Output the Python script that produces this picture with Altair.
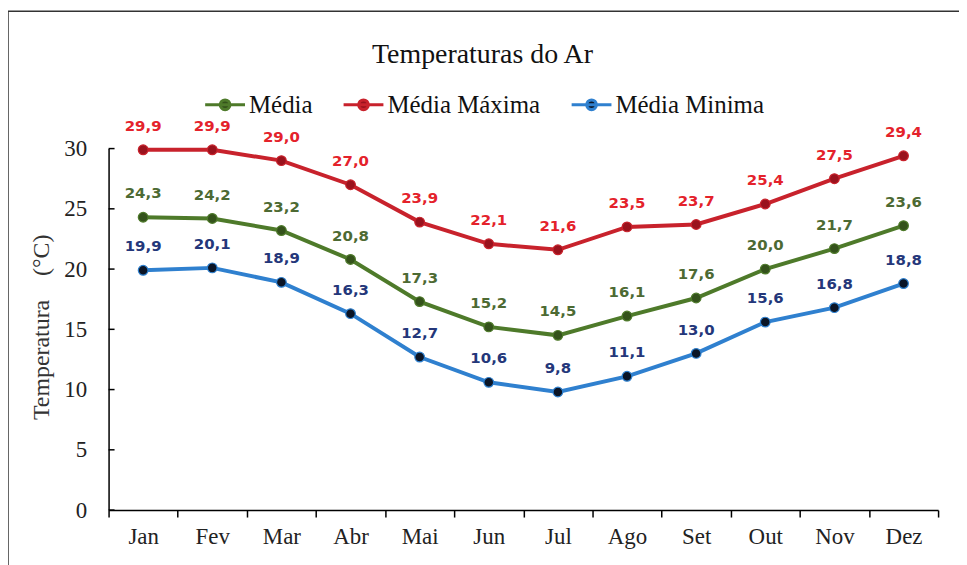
import altair as alt
import pandas as pd

months = ["Jan", "Fev", "Mar", "Abr", "Mai", "Jun", "Jul", "Ago", "Set", "Out", "Nov", "Dez"]
series = ["Média", "Média Máxima", "Média Minima"]
media = [24.3, 24.2, 23.2, 20.8, 17.3, 15.2, 14.5, 16.1, 17.6, 20.0, 21.7, 23.6]
maxima = [29.9, 29.9, 29.0, 27.0, 23.9, 22.1, 21.6, 23.5, 23.7, 25.4, 27.5, 29.4]
minima = [19.9, 20.1, 18.9, 16.3, 12.7, 10.6, 9.8, 11.1, 13.0, 15.6, 16.8, 18.8]
y_ticks = [0, 5, 10, 15, 20, 25, 30]

line_colors = ["#4e7a2a", "#c8222c", "#2f80cf"]
marker_fills = ["#34521b", "#9a121d", "#0b1526"]
label_colors = ["#4d6a33", "#e4222b", "#24377a"]

rows = []
for s, vals in zip(series, [media, maxima, minima]):
    for m, v in zip(months, vals):
        rows.append({"Mês": m, "Série": s, "Temp": v})
df = pd.DataFrame(rows)

SERIF = "Liberation Serif"
NB = "\u00a0"

yscale = alt.Scale(domain=[0, 30], nice=False, zero=True)
xscale = alt.Scale(type="band", paddingInner=0, paddingOuter=0)

x_enc = alt.X(
    "Mês:N", sort=months, scale=xscale,
    axis=alt.Axis(
        title=None, tickBand="extent", labelAngle=0, labelFont=SERIF, labelFontSize=23,
        labelColor="#222", labelPadding=9, tickSize=7, tickWidth=1.5, tickColor="#000",
        domainColor="#000", domainWidth=1.5, grid=False,
    ),
)
y_enc = alt.Y(
    "Temp:Q", scale=yscale,
    axis=alt.Axis(
        title="Temperatura" + NB * 4 + "(°C)", values=y_ticks, ticks=False, tickSize=0,
        labelPadding=22, labelFont=SERIF, labelFontSize=23, labelColor="#222",
        domainColor="#000", domainWidth=1.5, grid=False, titleFont=SERIF,
        titleFontSize=24, titleFontWeight="normal", titleColor="#333", titleX=-67,
        titleY=179, titleAngle=270, titleAlign="center", titleBaseline="middle",
    ),
)

sym_path = "M -1 0 L 1 0 M 0.24 0 A 0.24 0.24 0 1 1 -0.24 0 A 0.24 0.24 0 1 1 0.24 0 Z"
leg = alt.Legend(
    title=None, orient="none", legendX=95, legendY=-66, direction="horizontal",
    symbolType=sym_path, symbolSize=1600, symbolStrokeWidth=3.2, symbolOpacity=1,
    labelFont=SERIF, labelFontSize=25, labelColor="#111", labelOffset=2,
    columnPadding=24, labelLimit=400,
)

stroke_scale = alt.Scale(domain=series, range=line_colors)
fill_scale = alt.Scale(domain=series, range=marker_fills)

base = alt.Chart(df)

frame = alt.Chart(pd.DataFrame({"k": [0]})).mark_rect(
    fill="transparent", stroke="#333", strokeWidth=1.5
).encode(
    x=alt.value(-101), x2=alt.value(1300), y=alt.value(-138), y2=alt.value(1000)
)

yticks = alt.Chart(pd.DataFrame({"Temp": y_ticks})).mark_rule(
    color="#000", strokeWidth=1.5
).encode(y=alt.Y("Temp:Q", scale=yscale), x=alt.value(0), x2=alt.value(6))

lines = base.mark_line(strokeWidth=4).encode(
    x=x_enc, y=y_enc,
    stroke=alt.Stroke("Série:N", scale=stroke_scale, legend=leg),
)

points = base.mark_point(filled=True, size=95, strokeWidth=1.2, opacity=1).encode(
    x=x_enc, y=y_enc,
    stroke=alt.Stroke("Série:N", scale=stroke_scale, legend=leg),
    fill=alt.Fill("Série:N", scale=fill_scale, legend=leg),
)

labels = base.transform_calculate(
    lab="replace(format(datum.Temp, '.1f'), '.', ',')"
).mark_text(
    font="DejaVu Sans", fontWeight="bold", fontSize=15, dy=-24, baseline="middle"
).encode(
    x=x_enc, y=y_enc, text="lab:N",
    color=alt.Color("Série:N", scale=alt.Scale(domain=series, range=label_colors), legend=None),
)

chart = alt.layer(frame, yticks, lines, points, labels).properties(
    width=833, height=363,
    title=alt.Title("Temperaturas do Ar", font=SERIF, fontSize=28, fontWeight="normal",
                    color="#111", anchor="middle", dx=-41, dy=69, offset=10),
    autosize=alt.AutoSizeParams(type="none"),
    padding={"left": 101, "top": 140, "right": 21, "bottom": 57},
).configure(
    background="white",
    font=SERIF,
    view=alt.ViewConfig(stroke=None),
    legend=alt.LegendConfig(labelFont=SERIF, labelFontSize=25, labelColor="#111"),
)

chart.save("out.html", embed_options={"renderer": "svg", "actions": False})
